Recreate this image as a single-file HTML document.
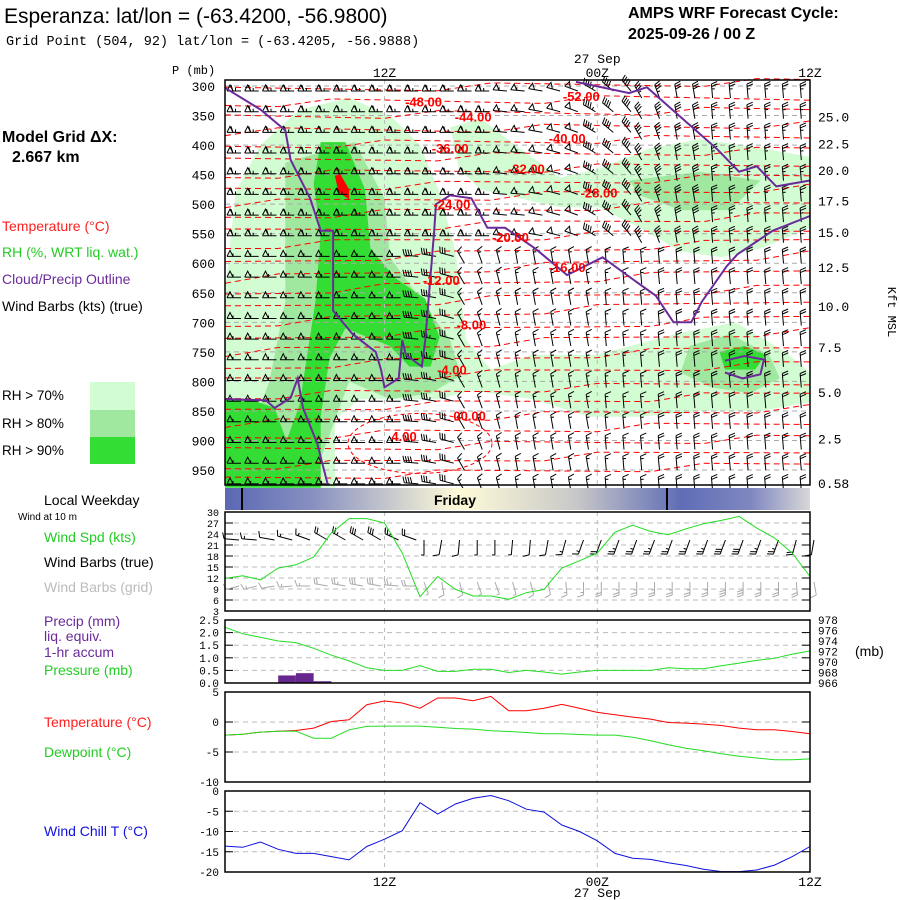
<!DOCTYPE html>
<html><head><meta charset="utf-8">
<style>
html,body{margin:0;padding:0;background:#fff;}
svg{display:block;}
text{font-family:"Liberation Sans",sans-serif;}
.mono{font-family:"Liberation Mono",monospace;}
</style></head>
<body>
<svg id="chart" width="900" height="900" viewBox="0 0 900 900" xmlns="http://www.w3.org/2000/svg">
<defs>
<linearGradient id="dayg" x1="0" x2="1" y1="0" y2="0">
<stop offset="0" stop-color="#5a68b4"/><stop offset="0.15" stop-color="#8890c0"/><stop offset="0.4" stop-color="#fffbd8"/><stop offset="0.6" stop-color="#c8c8c8"/><stop offset="0.78" stop-color="#5f6db6"/><stop offset="0.9" stop-color="#8088c0"/><stop offset="1" stop-color="#d8d8d8"/>
</linearGradient>
</defs>
<text x="4" y="23" font-size="21">Esperanza:  lat/lon = (-63.4200, -56.9800)</text>
<text x="6" y="45" font-size="13.5" class="mono">Grid Point (504, 92) lat/lon = (-63.4205, -56.9888)</text>
<text x="628" y="18" font-size="16" font-weight="bold">AMPS WRF Forecast Cycle:</text>
<text x="628" y="39" font-size="16" font-weight="bold">2025-09-26 / 00  Z</text>
<text x="2" y="142" font-size="16" font-weight="bold">Model Grid ΔX:</text>
<text x="12" y="162" font-size="16" font-weight="bold">2.667 km</text>
<text x="2" y="231" font-size="14" fill="#ff2020">Temperature (°C)</text>
<text x="2" y="257" font-size="14" fill="#22cc22">RH (%, WRT liq. wat.)</text>
<text x="2" y="284" font-size="14" fill="#6a2a9a">Cloud/Precip Outline</text>
<text x="2" y="311" font-size="14" fill="#000">Wind Barbs (kts) (true)</text>
<rect x="90" y="382" width="45" height="28" fill="#d2fcd2"/>
<rect x="90" y="410" width="45" height="27" fill="#a0e8a0"/>
<rect x="90" y="437" width="45" height="27" fill="#33dd33"/>
<text x="2" y="400" font-size="13.5">RH &gt; 70%</text>
<text x="2" y="428" font-size="13.5">RH &gt; 80%</text>
<text x="2" y="455" font-size="13.5">RH &gt; 90%</text>
<text x="44" y="505" font-size="14">Local Weekday</text>
<text x="18" y="520" font-size="10">Wind at 10 m</text>
<text x="44" y="542" font-size="14" fill="#22cc22">Wind Spd (kts)</text>
<text x="44" y="567" font-size="14">Wind Barbs (true)</text>
<text x="44" y="592" font-size="14" fill="#bbb">Wind Barbs (grid)</text>
<text x="44" y="626" font-size="14" fill="#6a2a9a">Precip (mm)</text>
<text x="44" y="641" font-size="14" fill="#6a2a9a">liq. equiv.</text>
<text x="44" y="657" font-size="14" fill="#6a2a9a">1-hr accum</text>
<text x="44" y="675" font-size="14" fill="#22cc22">Pressure (mb)</text>
<text x="855" y="656" font-size="14">(mb)</text>
<text x="44" y="727" font-size="14" fill="#ff2020">Temperature (°C)</text>
<text x="44" y="757" font-size="14" fill="#22cc22">Dewpoint (°C)</text>
<text x="44" y="836" font-size="14" fill="#1010dd">Wind Chill T (°C)</text>
<text x="172" y="74" font-size="12" class="mono">P (mb)</text>
<text x="888" y="312" font-size="12" class="mono" transform="rotate(90 888 312)" text-anchor="middle">Kft MSL</text>
<g id="g"></g>
</svg>
<script>
// ---------- data ----------
const hours = [0,1,2,3,4,5,6,7,8,9,10,11,12,13,14,15,16,17,18,19,20,21,22,23,24,25,26,27,28,29,30,31,32,33];
const windSpd = [11.9,12.6,11.5,14.7,15.6,17.7,24.3,28.2,28.2,27,18.8,6.9,12.4,8.9,7.1,7.1,6.2,8,8.9,14.7,16.7,18.8,24.5,26.4,24.7,23.8,25.4,26.8,27.7,28.8,25.6,22.9,18.8,12.4];
const windDir10m = [275,275,280,285,290,300,300,300,300,295,290,180,190,185,180,180,185,185,190,195,200,200,200,200,200,200,200,200,200,200,200,200,195,190];
const pressure = [976.6,975.4,974.7,974.0,973.7,972.6,971.3,970.2,968.9,968.4,968.4,969.3,968.2,968.2,968.6,968.6,968.0,968.4,968.1,967.7,968.1,968.4,968.4,968.4,968.4,968.9,968.7,968.7,969.3,969.8,970.3,970.7,971.5,972.1];
const precipHours = [3,4,5];
const precipVals = [0.3,0.39,0.07];
const temperature = [-2.19,-2.03,-1.69,-1.53,-1.41,-1.02,0.09,0.37,2.88,3.5,3.16,2.3,4.0,4.0,3.55,4.27,1.88,1.88,2.3,2.94,2.3,1.6,1.2,0.82,0.48,-0.08,-0.19,-0.35,-0.58,-1.02,-1.3,-1.3,-1.58,-1.97];
const dewpoint = [-2.19,-2.03,-1.69,-1.53,-1.53,-2.7,-2.7,-1.3,-0.74,-0.69,-0.69,-0.69,-0.86,-1.08,-1.19,-1.47,-1.58,-1.75,-1.97,-1.97,-2.08,-2.19,-2.19,-2.53,-3.14,-3.8,-4.37,-4.8,-5.3,-5.7,-6.0,-6.3,-6.3,-6.15];
const windChill = [-13.6,-13.9,-12.6,-14.4,-15.4,-15.4,-16.2,-17.0,-13.7,-11.9,-9.8,-2.9,-5.7,-3.2,-1.8,-1.1,-2.4,-4.5,-5.2,-8.4,-10.0,-12.3,-15.4,-16.6,-16.9,-17.7,-18.4,-19.3,-19.9,-19.9,-19.5,-18.3,-16.2,-13.7];
const pLevels = [300,350,400,450,500,550,600,650,700,750,800,850,900,950];
const kftLabels = ["25.0","22.5","20.0","17.5","15.0","12.5","10.0","7.5","5.0","2.5","0.58"];
const kftPress = [352,397,442,494,547,606,672,742,818,897,972];
const spdTicks = [30,27,24,21,18,15,12,9,6,3];
const precipTicks = [2.5,2.0,1.5,1.0,0.5,0.0];
const presTicks = [978,976,974,972,970,968,966];
const tempTicks = [5,0,-5,-10];
const chillTicks = [0,-5,-10,-15,-20];
const barbPress = [300,335,370,405,440,475,510,545,580,615,650,685,720,755,790,825,860,895,930,965];
const barbDirUpper = [270,270,270,270,270,270,270,270,270,270,270,270,270,270,270,275,275,280,285,290,300,310,320,330,340,350,350,355,355,355,355,355,355,355];
const barbDirLower = [270,270,270,270,270,270,270,270,270,270,275,280,285,330,340,345,350,350,350,350,350,355,355,355,355,355,355,355,355,355,355,355,355,355];
const barbSpdUpper = [65,65,65,65,65,65,65,65,65,65,65,65,65,65,65,55,55,50,50,50,45,40,40,35,35,30,30,25,25,25,25,25,25,25];
const barbSpdLower = [55,55,55,55,55,55,55,55,55,55,40,35,30,15,15,15,15,15,15,15,15,15,15,15,20,20,20,20,20,20,20,20,20,20];
// RH polygons as [hour, mb]
const rh70 = [[[0,650],[0.6,480],[2,400],[4.2,340],[7,320],[9.3,350],[11,400],[12.1,480],[13,580],[13.3,650],[13.6,730],[15,780],[17.3,755],[21,755],[25.4,720],[28.8,700],[31.6,750],[33,785],[33,835],[30.2,850],[26.8,850],[23.4,860],[20.6,860],[17.3,830],[13.9,815],[12.1,830],[7.6,830],[6.2,865],[6.2,980],[0,980]],
 [[12.7,370],[14.4,355],[16.6,405],[18.9,455],[21.1,440],[24,405],[26.8,390],[30.2,405],[33,420],[33,540],[30.2,575],[28,590],[25.7,580],[23.4,540],[21.1,505],[18.9,505],[16.6,490],[14.4,475],[13.2,440]]];
const rh80 = [[[3.4,430],[7.3,395],[9.0,490],[9.3,590],[11,660],[12.7,730],[13.3,790],[11.6,820],[9.3,830],[7.0,800],[5.9,890],[4.8,980],[0.8,980],[1.4,890],[2.5,800],[3.4,665],[3.4,530]],
 [[26.2,740],[28.5,720],[30.7,755],[31.3,795],[29.6,820],[27.4,810],[25.7,785]],
 [[22.8,460],[26.8,445],[30.2,460],[28.5,510],[25.7,510],[23.4,485]]];
const rh90 = [[[5.4,395],[6.8,395],[7.9,475],[8.2,575],[9.6,625],[11.3,660],[12.1,725],[11.6,775],[10.4,775],[9.3,740],[6.8,710],[5.9,760],[5.4,860],[5.4,980],[2.5,980],[4.2,840],[5.1,665],[5.4,550],[5.0,465]],
 [[0,830],[1.4,830],[2.8,845],[3.4,895],[3.7,980],[0,980]],
 [[27.9,750],[29.3,740],[30.5,755],[29.9,780],[28.2,780]]];
const rhHot = [[[6.2,452],[6.5,449],[7.0,475],[7.0,492],[6.4,480]]];
// cloud outlines [hour, mb]
const cloudLines = [
 [[0,303],[2,340],[3.4,375],[3.7,425],[4.8,490],[5.4,545],[6.1,545],[6.1,680],[7.2,720],[8.5,750],[8.8,780],[9.0,810],[9.8,795],[10.0,730],[10.2,755],[11.1,775],[11.3,730],[11.8,545],[11.9,500],[12.7,485],[13.9,490],[14.8,540],[15.8,540],[17.5,575],[19.3,620],[21.3,590],[22.9,625],[24.3,655],[25.3,700],[26.3,700],[26.9,665],[28.3,605],[28.9,585],[30.9,545],[33,520]],
 [[19.8,293],[22.8,312],[23.8,302],[26.1,363],[27.8,408],[29.0,445],[30.0,436],[31.1,470],[33,460]],
 [[0,830],[2.3,832],[2.8,845],[3.7,828],[4.1,795],[4.4,845],[5.2,905],[5.8,975]],
 [[28.2,765],[29.3,757],[30.4,763],[30.2,788],[29.2,795],[28.2,785]]
];
const isoTemps = [-52,-50,-48,-46,-44,-42,-40,-38,-36,-34,-32,-30,-28,-26,-24,-22,-20,-18,-16,-14,-12,-10,-8,-6,-4,-2,0,2];
const isoLeftP = [308,330,352,378,402,428,452,476,500,522,548,572,600,628,652,678,704,730,752,778,800,826,850,872,895,918,945,965];
const isoRightP = [292,318,340,365,385,408,430,452,472,495,518,540,560,585,610,640,660,690,715,740,770,800,820,845,870,895,915,940];
const isoLabelTemps = ["-52.00","-48.00","-44.00","-40.00","-36.00","-32.00","-28.00","-24.00","-20.00","-16.00","-12.00","-8.00","-4.00","00.00","4.00"];
const isoLabelPos = [[20.1,317],[11.2,326],[14.0,352],[19.3,388],[12.7,405],[17.0,440],[21.1,480],[12.8,500],[16.1,556],[19.3,606],[12.2,628],[13.9,704],[12.8,780],[13.8,858],[10.1,892]];

// ---------- helpers ----------
const NS = "http://www.w3.org/2000/svg";
const G = document.getElementById('g');
function mk(tag, attrs, parent){ const e=document.createElementNS(NS,tag); for(const k in attrs) e.setAttribute(k,attrs[k]); (parent||G).appendChild(e); return e; }
const X0=225, X1=810;
const xH = h => X0 + h*(X1-X0)/33;
const yP = p => 86 + (p-300)*0.5908;
const ySpd = s => 512 + (30-s)*99/27;
const yPr = v => 683 - v/2.5*63;
const yPres = p => 683 - (p-966)/12*63;
const yT = t => 692 + (5-t)*6;
const yWC = t => 791 + (-t)*81/20;
const pts = (arr, fy) => arr.map((v,i)=>xH(hours[i]).toFixed(1)+','+fy(v).toFixed(1)).join(' ');
const polyPts = arr => arr.map(q=>xH(q[0]).toFixed(1)+','+yP(q[1]).toFixed(1)).join(' ');

function barb(parent, x, y, dir, spd, col, len){
  const r = dir*Math.PI/180;
  const dx = Math.sin(r), dy = -Math.cos(r);
  const px = -dy, py = dx;
  const ex = x+dx*len, ey = y+dy*len;
  let d = `M${x.toFixed(1)},${y.toFixed(1)}L${ex.toFixed(1)},${ey.toFixed(1)}`;
  let s = Math.round(spd/5)*5, pos = 0;
  const bl = 6;
  while(s>=50){ const bx=ex-dx*pos, by=ey-dy*pos; d+=`M${bx.toFixed(1)},${by.toFixed(1)}L${(bx+px*bl-dx*3).toFixed(1)},${(by+py*bl-dy*3).toFixed(1)}L${(bx-dx*6).toFixed(1)},${(by-dy*6).toFixed(1)}`; pos+=6; s-=50; }
  while(s>=10){ const bx=ex-dx*pos, by=ey-dy*pos; d+=`M${bx.toFixed(1)},${by.toFixed(1)}L${(bx+px*bl+dx*2).toFixed(1)},${(by+py*bl+dy*2).toFixed(1)}`; pos+=2.5; s-=10; }
  if(s>=5){ const bx=ex-dx*pos, by=ey-dy*pos; d+=`M${bx.toFixed(1)},${by.toFixed(1)}L${(bx+px*bl*0.5).toFixed(1)},${(by+py*bl*0.5).toFixed(1)}`; }
  return mk('path',{d:d,stroke:col,'stroke-width':1,fill:'none'},parent);
}

// ---------- main cross-section ----------
const main = mk('g',{});


mk('rect',{x:X0,y:80,width:X1-X0,height:405,fill:'#fff'},main);
[[rh70,'#d2fcd2','rh70-region'],[rh80,'#a0e8a0','rh80-region'],[rh90,'#33dd33','rh90-region'],[rhHot,'#ff0000','rh-max-region']].forEach(([set,c,n])=>{
  set.forEach(poly=>{ const e=mk('polygon',{points:polyPts(poly),fill:c},main);
    
     });
});
pLevels.forEach(p=>{ const e=mk('line',{x1:X0,x2:X1,y1:yP(p),y2:yP(p),stroke:'#aaa','stroke-dasharray':'5,4','stroke-width':1},main);
  
   });
[9,21].forEach(h=>{ mk('line',{x1:xH(h),x2:xH(h),y1:80,y2:485,stroke:'#bbb','stroke-dasharray':'4,4'},main); });
isoTemps.forEach((t,i)=>{
  const a=isoLeftP[i], b=isoRightP[i];
  const ptsA=[];
  for(let h=0;h<=33;h+=3){ const w=((h*7+i*3)%5-2)*3; ptsA.push(xH(h).toFixed(1)+','+yP(a+(b-a)*h/33+w).toFixed(1)); }
  const e=mk('polyline',{points:ptsA.join(' '),fill:'none',stroke:'#ff0000','stroke-dasharray':'6,4','stroke-width':1},main);
  
  
});
const loop=mk('ellipse',{cx:xH(11),cy:yP(905),rx:72,ry:30,fill:'none',stroke:'#ff0000','stroke-dasharray':'4,3'},main);


barbPress.forEach(p=>{
  hours.forEach((h,i)=>{
    const upper = p<=560;
    const dir = upper?barbDirUpper[i]:barbDirLower[i];
    const spd = upper?barbSpdUpper[i]:barbSpdLower[i];
    if(i===33) return;
    const vertical = Math.abs(Math.sin(dir*Math.PI/180))<0.6;
    const bx = vertical ? xH(h)+9 : xH(h)+16;
    const by = vertical ? yP(p)+12 : yP(p)+5;
    const b=barb(main, bx, by, dir, spd, '#000', 14);
    
    
  });
});
cloudLines.forEach(l=>{ const e=mk('polyline',{points:polyPts(l),fill:'none',stroke:'#6a2a9a','stroke-width':2},main);
  
   });
isoLabelTemps.forEach((s,i)=>{
  const e=mk('text',{x:xH(isoLabelPos[i][0]),y:yP(isoLabelPos[i][1])+5,'font-size':13,'font-weight':'bold',fill:'#ff0000','text-anchor':'middle'},main);
  e.textContent=s;
  
  
});
mk('rect',{x:X0,y:80,width:X1-X0,height:405,fill:'none',stroke:'#000','stroke-width':1.5},main);
pLevels.forEach(p=>{ const e=mk('text',{x:215,y:yP(p)+5,'font-size':13,'text-anchor':'end',class:'mono'}); e.textContent=p;
  
   });
kftLabels.forEach((s,i)=>{ const e=mk('text',{x:818,y:yP(kftPress[i])+5,'font-size':13,class:'mono'}); e.textContent=s;
  
   });
[[9,'12Z'],[21,'00Z'],[33,'12Z']].forEach(([h,s])=>{
  const e=mk('text',{x:xH(h),y:77,'font-size':13,'text-anchor':'middle',class:'mono'}); e.textContent=s;
  
  
  const f=mk('text',{x:xH(h),y:886,'font-size':13,'text-anchor':'middle',class:'mono'}); f.textContent=s;
  
  
});
{ const e=mk('text',{x:xH(21),y:63,'font-size':13,'text-anchor':'middle',class:'mono'}); e.textContent='27 Sep';
  
  
  const f=mk('text',{x:xH(21),y:897,'font-size':13,'text-anchor':'middle',class:'mono'}); f.textContent='27 Sep';
  
   }

// ---------- day bar ----------
const day=mk('rect',{x:X0,y:488,width:X1-X0,height:22,fill:'url(#dayg)'});


[242,667].forEach(x=>mk('line',{x1:x,x2:x,y1:488,y2:510,stroke:'#000','stroke-width':2}));
{ const e=mk('text',{x:455,y:505,'font-size':14,'font-weight':'bold','text-anchor':'middle'}); e.textContent='Friday';
  
   }

// ---------- generic panel frame ----------
function panel(name, top, bot, ticks, fy, leftFmt, fs){
  const g=mk('g',{});
  
  
  ticks.forEach(t=>{ const y=fy(t);
    mk('line',{x1:X0,x2:X1,y1:y,y2:y,stroke:'#bbb','stroke-dasharray':'5,4'},g);
    mk('line',{x1:X0,x2:X0+8,y1:y,y2:y,stroke:'#000'},g);
    mk('line',{x1:X1-8,x2:X1,y1:y,y2:y,stroke:'#000'},g);
    const e=mk('text',{x:219,y:y+4,'font-size':fs||11,'text-anchor':'end',class:'mono'},g); e.textContent=leftFmt(t);
    
    
  });
  [9,21].forEach(h=>mk('line',{x1:xH(h),x2:xH(h),y1:top,y2:bot,stroke:'#bbb','stroke-dasharray':'4,4'},g));
  return g;
}
const wp=panel('wind-panel',512,611,spdTicks,ySpd,t=>t,10);
hours.forEach((h,i)=>{
  const vertical = Math.abs(Math.sin(windDir10m[i]*Math.PI/180))<0.6;
  const b=barb(wp, vertical?xH(h)+4:xH(h)+14, vertical?540:540, windDir10m[i], windSpd[i], '#000', 15);
  
  
  const c=barb(wp, vertical?xH(h)+4:xH(h)+14, vertical?582:586, windDir10m[i]-20, windSpd[i], '#aaa', 13);
  
  
});
{ const e=mk('polyline',{points:pts(windSpd,ySpd),fill:'none',stroke:'#22dd22','stroke-width':1},wp);
  
   }
mk('rect',{x:X0,y:512,width:X1-X0,height:99,fill:'none',stroke:'#000','stroke-width':1.5},wp);

const pp=panel('precip-pressure-panel',620,683,precipTicks,yPr,t=>t.toFixed(1));
presTicks.forEach(p=>{ const e=mk('text',{x:818,y:yPres(p)+4,'font-size':11,class:'mono'},pp); e.textContent=p;
  
   });
precipHours.forEach((h,i)=>{
  const e=mk('rect',{x:xH(h),y:yPr(precipVals[i]),width:xH(h+1)-xH(h),height:683-yPr(precipVals[i]),fill:'#66278e'},pp);
  
  
});
{ const e=mk('polyline',{points:pts(pressure,yPres),fill:'none',stroke:'#22dd22','stroke-width':1},pp);
  
   }
mk('rect',{x:X0,y:620,width:X1-X0,height:63,fill:'none',stroke:'#000','stroke-width':1.5},pp);

const tp=panel('temperature-panel',692,782,tempTicks,yT,t=>t);
{ const e=mk('polyline',{points:pts(temperature,yT),fill:'none',stroke:'#ff0000','stroke-width':1},tp);
  
  
  const f=mk('polyline',{points:pts(dewpoint,yT),fill:'none',stroke:'#22dd22','stroke-width':1},tp);
  
   }
mk('rect',{x:X0,y:692,width:X1-X0,height:90,fill:'none',stroke:'#000','stroke-width':1.5},tp);

const cp=panel('wind-chill-panel',791,872,chillTicks,yWC,t=>t);
{ const e=mk('polyline',{points:pts(windChill,yWC),fill:'none',stroke:'#1010dd','stroke-width':1},cp);
  
   }
mk('rect',{x:X0,y:791,width:X1-X0,height:81,fill:'none',stroke:'#000','stroke-width':1.5},cp);
</script>
</body></html>
